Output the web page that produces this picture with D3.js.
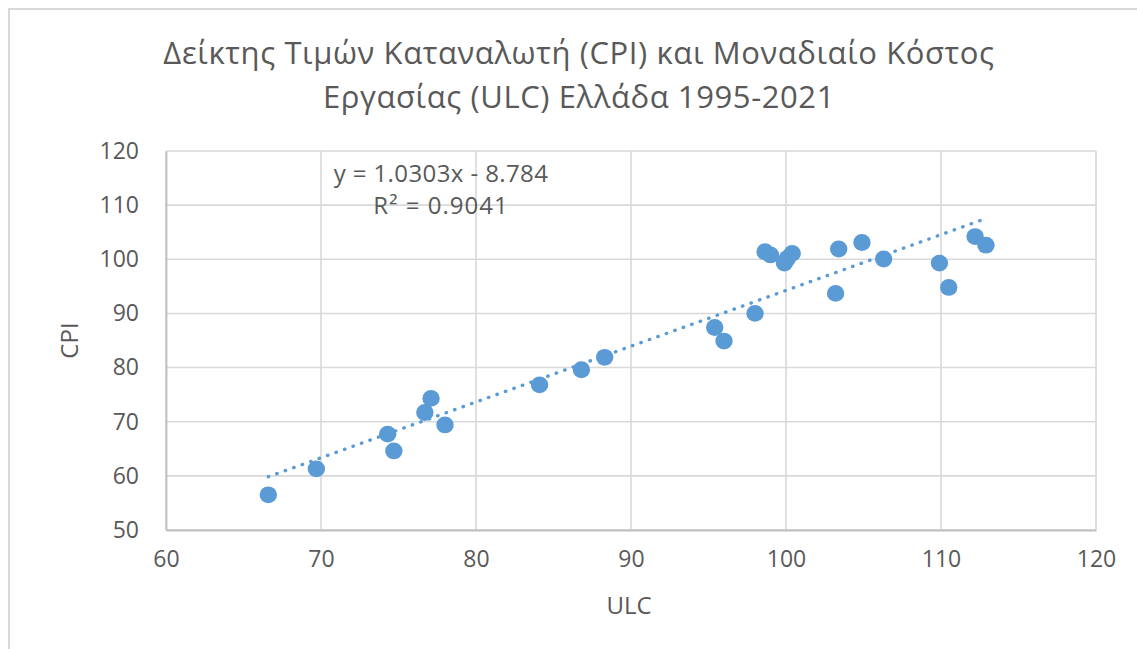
<!DOCTYPE html>
<html>
<head>
<meta charset="utf-8">
<script src="https://cdn.jsdelivr.net/npm/d3@7"></script>
<style>
  html, body { margin: 0; padding: 0; background: #ffffff; }
  svg { display: block; }
</style>
</head>
<body>
<svg id="chart" width="1137" height="649"></svg>
<script>
// ---- Data ----
const titleLines = ["Δείκτης Τιμών Καταναλωτή (CPI) και Μοναδιαίο Κόστος", "Εργασίας (ULC) Ελλάδα 1995-2021"];
const xLabel = "ULC";
const yLabel = "CPI";
const ulc = [66.6, 69.7, 74.3, 74.7, 76.7, 77.1, 78.0, 84.1, 86.8, 88.3, 95.4, 96.0, 98.0,
             98.65, 99.0, 100.4, 99.9, 100.1, 103.4, 103.2, 104.9, 106.3, 109.9, 110.5, 112.2, 112.9];
const cpi = [56.5, 61.3, 67.7, 64.6, 71.7, 74.3, 69.4, 76.8, 79.6, 81.9, 87.4, 84.9, 90.0,
             101.4, 100.8, 101.1, 99.3, 100.2, 101.9, 93.7, 103.1, 100.05, 99.3, 94.8, 104.2, 102.6];
const trendSlope = [1.0303];
const trendIntercept = [-8.784];
const equationLines = ["y = 1.0303x - 8.784", "R² = 0.9041"];
const xTicks = [60, 70, 80, 90, 100, 110, 120];
const yTicks = [50, 60, 70, 80, 90, 100, 110, 120];

// ---- Layout ----
const svg = d3.select("#chart");
const W = 1137, H = 649;
const plot = { left: 166, right: 1096, top: 151, bottom: 530 };
const textColor = "#595959";
const font = "'Open Sans', 'Noto Sans', sans-serif";
const dotColor = "#5b9bd5";

// chart frame (extends beyond the picture on right/bottom)
svg.append("rect")
  .attr("x", 9).attr("y", 9)
  .attr("width", W + 20).attr("height", H + 20)
  .attr("fill", "#ffffff")
  .attr("stroke", "#d9d9d9").attr("stroke-width", 2);

const x = d3.scaleLinear().domain([60, 120]).range([plot.left, plot.right]);
const y = d3.scaleLinear().domain([50, 120]).range([plot.bottom, plot.top]);

// gridlines
const grid = svg.append("g");
grid.selectAll("line.h").data(yTicks).join("line")
  .attr("x1", plot.left).attr("x2", plot.right)
  .attr("y1", d => y(d)).attr("y2", d => y(d))
  .attr("stroke", "#d9d9d9").attr("stroke-width", 1.6);
grid.selectAll("line.v").data(xTicks).join("line")
  .attr("y1", plot.top).attr("y2", plot.bottom)
  .attr("x1", d => x(d)).attr("x2", d => x(d))
  .attr("stroke", "#d9d9d9").attr("stroke-width", 1.6);

// axes
const xAxis = d3.axisBottom(x).tickValues(xTicks).tickSize(0).tickPadding(21).tickFormat(d3.format("d"));
const yAxis = d3.axisLeft(y).tickValues(yTicks).tickSize(0).tickPadding(27).tickFormat(d3.format("d"));

const gx = svg.append("g").attr("transform", `translate(0,${plot.bottom})`).call(xAxis);
const gy = svg.append("g").attr("transform", `translate(${plot.left},0)`).call(yAxis);
[gx, gy].forEach(g => {
  g.select(".domain").attr("stroke", "#bfbfbf").attr("stroke-width", 1.8);
  g.selectAll("text").attr("fill", textColor).style("font-family", font).style("font-size", "23px");
});

// trendline (dotted), over the range of the data
const xMin = d3.min(ulc), xMax = d3.max(ulc);
const trend = [xMin, xMax].map(v => [v, trendSlope[0] * v + trendIntercept[0]]);
svg.append("path")
  .datum(trend)
  .attr("d", d3.line().x(d => x(d[0])).y(d => y(d[1])))
  .attr("fill", "none")
  .attr("stroke", dotColor)
  .attr("stroke-width", 3.4)
  .attr("stroke-linecap", "round")
  .attr("stroke-dasharray", "0.4 8.6");

// points
const pts = ulc.map((v, i) => [v, cpi[i]]);
svg.append("g").selectAll("ellipse").data(pts).join("ellipse")
  .attr("cx", d => x(d[0])).attr("cy", d => y(d[1]))
  .attr("rx", 8.7).attr("ry", 8.4)
  .attr("fill", dotColor);

// equation label
svg.append("text")
  .attr("x", 441).attr("y", 182)
  .attr("text-anchor", "middle")
  .attr("fill", textColor)
  .style("font-family", font).style("font-size", "24px")
  .style("letter-spacing", "0.4px")
  .text(equationLines[0]);
svg.append("text")
  .attr("x", 441).attr("y", 214)
  .attr("text-anchor", "middle")
  .attr("fill", textColor)
  .style("font-family", font).style("font-size", "24px")
  .style("letter-spacing", "1px")
  .text(equationLines[1]);

// title
svg.append("g").selectAll("text").data(titleLines).join("text")
  .attr("x", 579)
  .attr("y", (d, i) => 64 + i * 44)
  .attr("text-anchor", "middle")
  .attr("fill", textColor)
  .style("font-family", font).style("font-size", "31px")
  .style("letter-spacing", "0.6px")
  .text(d => d);

// axis titles
svg.append("text")
  .attr("x", (plot.left + plot.right) / 2 - 2).attr("y", 614)
  .attr("text-anchor", "middle")
  .attr("fill", textColor)
  .style("font-family", font).style("font-size", "24px")
  .text(xLabel);
svg.append("text")
  .attr("transform", `translate(78,${(plot.top + plot.bottom) / 2}) rotate(-90)`)
  .attr("text-anchor", "middle")
  .attr("fill", textColor)
  .style("font-family", font).style("font-size", "24px")
  .text(yLabel);
</script>
</body>
</html>
